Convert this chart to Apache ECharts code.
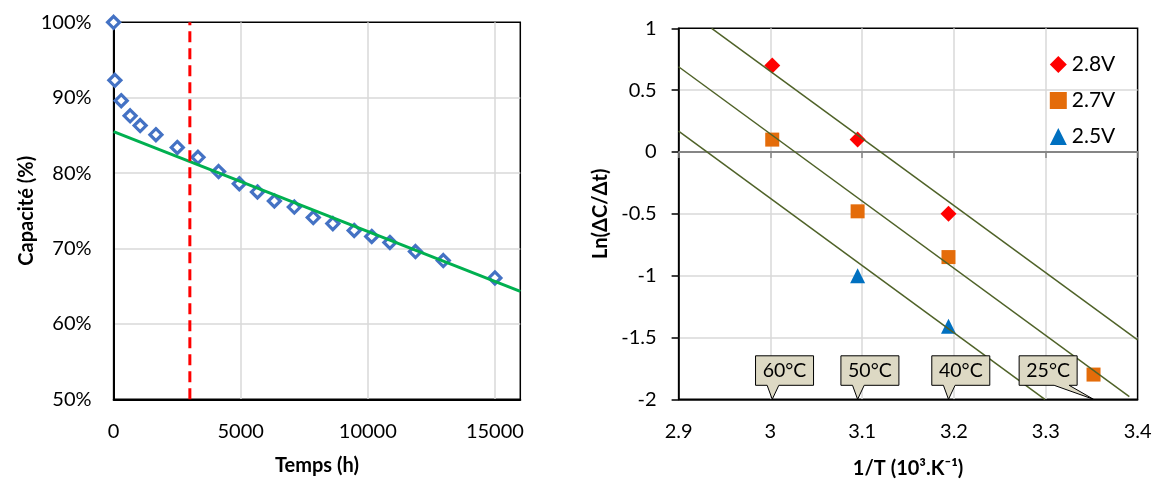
<!DOCTYPE html>
<html><head><meta charset="utf-8">
<script src="https://cdn.jsdelivr.net/npm/echarts@6/dist/echarts.min.js"></script>
<style>html,body{margin:0;padding:0;background:#fff}#c{width:1157px;height:479px}</style>
</head><body><div id="c"></div>
<script>
// ---- Left chart data: capacity vs time ----
const timeHours   = [0, 50, 300, 650, 1045, 1665, 2505, 3320, 4130, 4945, 5660, 6325, 7110, 7855, 8625, 9465, 10155, 10870, 11875, 12970, 15000];
const capacityPct = [100, 92.3, 89.6, 87.6, 86.3, 85.1, 83.4, 82.1, 80.2, 78.6, 77.5, 76.3, 75.5, 74.1, 73.3, 72.4, 71.6, 70.8, 69.6, 68.4, 66.1];
const fitTime      = [0, 16000];
const fitCapacity  = [85.5, 64.3];
const limitTime    = [3000, 3000];
const limitCap     = [50, 100];

// ---- Right chart data: Arrhenius plot ----
const invT       = [3.002, 3.095, 3.194, 3.352];
const tempLabels = ['60°C', '50°C', '40°C', '25°C'];
const ln28 = [0.70, 0.10, -0.50, null];
const ln27 = [0.10, -0.48, -0.85, -1.80];
const ln25 = [null, -1.00, -1.41, null];
const seriesNames = ['2.8V', '2.7V', '2.5V'];
const trendX = [[2.936, 3.4], [2.9, 3.391], [2.9, 3.299]];
const trendY = [[1.0, -1.52], [0.689, -1.978], [0.168, -2.0]];

const font = 'Lato, "Noto Sans", sans-serif';
const pairs = (xs, ys) => xs.map((x, i) => [x, ys[i]]).filter(p => p[1] !== null);
const gridLine = {show: true, showMinLine: false, showMaxLine: false, lineStyle: {color: '#D9D9D9', width: 1.5}};
const lbl = {fontSize: 20, color: '#000', fontFamily: font, margin: 22};
const nameStyle = {fontSize: 20, fontWeight: 'bold', color: '#000', fontFamily: font};
const round1 = v => String(Math.round(v * 10) / 10);

const chart = echarts.init(document.getElementById('c'));
const option = {
  animation: false,
  textStyle: {fontFamily: font},
  grid: [
    {left: 113.6, top: 22.3, width: 406.7, height: 377, show: true, borderColor: '#000', borderWidth: 1.5, backgroundColor: 'transparent', outerBoundsMode: 'none'},
    {left: 678.6, top: 28.3, width: 459, height: 371, show: true, borderColor: '#000', borderWidth: 1.5, backgroundColor: 'transparent', outerBoundsMode: 'none'}
  ],
  legend: {
    orient: 'vertical', left: 1044.8, top: 49, itemWidth: 17, itemHeight: 17, itemGap: 15,
    data: seriesNames, textStyle: {fontSize: 21, color: '#000', fontFamily: font}
  },
  xAxis: [
    {gridIndex: 0, type: 'value', min: 0, max: 16000, interval: 5000,
     axisLine: {show: true, onZero: false, lineStyle: {color: '#000', width: 2}}, axisTick: {show: false},
     axisLabel: Object.assign({}, lbl, {formatter: v => v === 16000 ? '' : String(v)}),
     splitLine: gridLine, name: 'Temps (h)', nameLocation: 'middle', nameGap: 56, nameTextStyle: nameStyle},
    {gridIndex: 1, type: 'value', min: 2.9, max: 3.4, interval: 0.1,
     axisLine: {show: true, onZero: false, lineStyle: {color: '#000', width: 1.5}}, axisTick: {show: false},
     axisLabel: Object.assign({}, lbl, {formatter: round1}),
     splitLine: gridLine, name: '1/T (10³.K⁻¹)', nameLocation: 'middle', nameGap: 59, nameTextStyle: nameStyle},
    {gridIndex: 1, type: 'value', position: 'top', min: 2.9, max: 3.4, interval: 0.1,
     axisLine: {show: true, onZero: true, lineStyle: {color: '#868686', width: 2}},
     axisTick: {show: true, inside: true, length: 6, lineStyle: {color: '#868686', width: 1.5}},
     axisLabel: {show: false}, splitLine: {show: false}}
  ],
  yAxis: [
    {gridIndex: 0, type: 'value', min: 50, max: 100, interval: 10,
     axisLine: {show: true, onZero: false, lineStyle: {color: '#000', width: 2}}, axisTick: {show: false},
     axisLabel: Object.assign({}, lbl, {formatter: '{value}%'}),
     splitLine: gridLine, name: 'Capacité (%)', nameLocation: 'middle', nameRotate: 90, nameGap: 77, nameTextStyle: nameStyle},
    {gridIndex: 1, type: 'value', min: -2, max: 1, interval: 0.5,
     axisLine: {show: true, onZero: false, lineStyle: {color: '#000', width: 1.5}},
     axisTick: {show: true, length: 7, lineStyle: {color: '#000', width: 1.5}},
     axisLabel: Object.assign({}, lbl, {formatter: round1}),
     splitLine: gridLine, name: 'Ln(ΔC/Δt)', nameLocation: 'middle', nameRotate: 90, nameGap: 68, nameTextStyle: nameStyle}
  ],
  series: [
    {type: 'scatter', xAxisIndex: 0, yAxisIndex: 0, data: pairs(timeHours, capacityPct), symbol: 'diamond', symbolSize: 12,
     itemStyle: {color: '#fff', borderColor: '#4472C4', borderWidth: 3.2, opacity: 1}, z: 2},
    {type: 'line', xAxisIndex: 0, yAxisIndex: 0, data: pairs(fitTime, fitCapacity), symbol: 'none',
     lineStyle: {color: '#00B050', width: 3}, z: 3},
    {type: 'line', xAxisIndex: 0, yAxisIndex: 0, data: pairs(limitTime, limitCap), symbol: 'none',
     lineStyle: {color: '#FF0000', width: 3, type: [11, 6]}, z: 4},

    {name: seriesNames[0], type: 'scatter', xAxisIndex: 1, yAxisIndex: 1, data: pairs(invT, ln28), symbol: 'diamond', symbolSize: 16, itemStyle: {color: '#FF0000', opacity: 1}, z: 2},
    {name: seriesNames[1], type: 'scatter', xAxisIndex: 1, yAxisIndex: 1, data: pairs(invT, ln27), symbol: 'rect', symbolSize: 14, itemStyle: {color: '#E46C0A', opacity: 1}, z: 2},
    {name: seriesNames[2], type: 'scatter', xAxisIndex: 1, yAxisIndex: 1, data: pairs(invT, ln25), symbol: 'triangle', symbolSize: 15, itemStyle: {color: '#0070C0', opacity: 1}, z: 2}
  ].concat(trendX.map((xs, k) => ({
    type: 'line', xAxisIndex: 1, yAxisIndex: 1, data: pairs(xs, trendY[k]), symbol: 'none',
    lineStyle: {color: '#4F6228', width: 1.5}, z: 3
  })))
};
chart.setOption(option);

// Callouts pointing at each temperature on the bottom axis
const calloutGeom = [
  {off: -16.7, b1: 11.6, b2: 23.3},
  {off: -16.7, b1: 11.6, b2: 23.3},
  {off: -16.7, b1: 11.6, b2: 23.3},
  {off: -74.4, b1: 35, b2: 50}
];
const W = 58, H = 29.5, GAP = 14;
const graphics = [];
invT.forEach((x, i) => {
  const tip = chart.convertToPixel({xAxisIndex: 1, yAxisIndex: 1}, [x, -2]);
  const g = calloutGeom[i];
  const L = tip[0] + g.off, B = tip[1] - GAP, T = B - H;
  graphics.push({
    type: 'polygon', z: 100,
    shape: {points: [[L, T], [L + W, T], [L + W, B], [L + g.b2, B], [tip[0], tip[1]], [L + g.b1, B], [L, B]]},
    style: {fill: '#DDD9C4', stroke: '#000', lineWidth: 1}
  });
  graphics.push({
    type: 'text', z: 101, x: L + W / 2, y: T + H / 2,
    style: {text: tempLabels[i], x: 0, y: 0, align: 'center', verticalAlign: 'middle', fontSize: 19.5, fontFamily: font, fill: '#000'}
  });
});
chart.setOption({graphic: graphics});
</script>
</body></html>
